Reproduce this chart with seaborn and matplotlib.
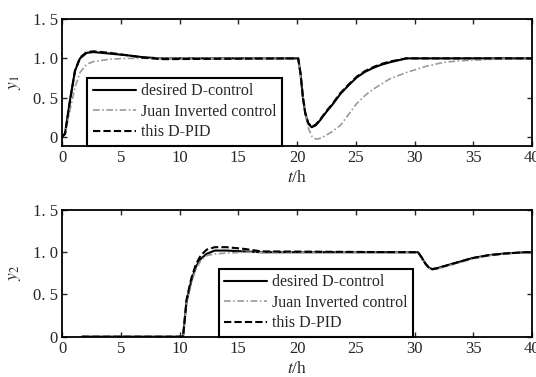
import pandas as pd
import matplotlib
matplotlib.use("Agg")
import matplotlib.pyplot as plt
import seaborn as sns

# y1 response (top panel)
t1_desired = [0, 0.26, 0.68, 1.1, 1.53, 2.1, 2.68, 4.1, 5.5, 6.9, 8.4, 20.1, 20.3, 20.5, 20.7,
              20.95, 21.25, 21.6, 22.0, 22.5, 23.0, 23.7, 24.4, 25.1, 25.8, 26.5, 27.2,
              27.9, 29.3, 40]
y1_desired = [0, 0.05, 0.47, 0.84, 1.0, 1.07, 1.08, 1.06, 1.04, 1.015, 1.0, 1.0, 0.8, 0.5, 0.3,
              0.17, 0.125, 0.15, 0.22, 0.32, 0.41, 0.55, 0.66, 0.76, 0.83, 0.88, 0.92,
              0.95, 1.0, 1.0]
y1_dpid = [0, 0.04, 0.46, 0.84, 1.01, 1.08, 1.09, 1.07, 1.04, 1.01, 0.99, 1.0, 0.81, 0.51, 0.31,
           0.18, 0.13, 0.16, 0.23, 0.33, 0.42, 0.56, 0.67, 0.77, 0.84, 0.89, 0.93,
           0.96, 1.0, 1.0]

t1_juan = [0, 0.26, 0.68, 1.1, 1.53, 2.1, 2.68, 4.1, 5.5, 20.1, 20.4, 20.7, 21.0, 21.3, 21.6,
           21.9, 22.2, 22.9, 23.7, 24.4, 25.1, 25.8, 26.5, 27.9, 29.3, 31.0, 32.5, 33.9,
           36.8, 40]
y1_juan = [0, 0.04, 0.34, 0.63, 0.82, 0.925, 0.96, 0.99, 1.0, 1.0, 0.65, 0.3, 0.1, 0.0, -0.025,
           -0.02, 0.0, 0.06, 0.15, 0.29, 0.43, 0.53, 0.61, 0.74, 0.82, 0.9, 0.95, 0.97,
           0.99, 1.0]

# y2 response (bottom panel)
t2 = [1.7, 10.3, 10.6, 11.0, 11.4, 11.8, 12.3, 13.0, 14.0, 15.5, 17.0, 30.3, 30.6, 30.9,
      31.2, 31.5, 31.9, 32.4, 33.4, 34.9, 36.3, 37.7, 39.4, 40]
y2_desired = [0, 0, 0.42, 0.66, 0.83, 0.92, 0.98, 1.02, 1.02, 1.01, 1.0, 1.0, 0.94, 0.87,
              0.82, 0.8, 0.81, 0.83, 0.87, 0.93, 0.965, 0.985, 1.0, 1.0]
y2_juan = [0, 0, 0.40, 0.64, 0.80, 0.90, 0.96, 0.98, 0.99, 1.0, 1.0, 1.0, 0.94, 0.87,
           0.81, 0.79, 0.8, 0.82, 0.86, 0.92, 0.96, 0.98, 1.0, 1.0]
y2_dpid = [0, 0, 0.44, 0.69, 0.86, 0.96, 1.03, 1.06, 1.06, 1.04, 1.01, 1.0, 0.94, 0.87,
           0.82, 0.8, 0.81, 0.83, 0.87, 0.93, 0.965, 0.985, 1.0, 1.0]

labels = ["desired D-control", "Juan Inverted control", "this D-PID"]
x_ticks = [0, 5, 10, 15, 20, 25, 30, 35, 40]
y_ticks = [0, 0.5, 1.0, 1.5]
y_ticklabels = ["0", "0. 5", "1. 0", "1. 5"]

sns.set_style("ticks")
plt.rcParams["font.family"] = ["Liberation Serif", "DejaVu Serif"]
plt.rcParams["mathtext.fontset"] = "stix"
plt.rcParams["xtick.direction"] = "in"
plt.rcParams["ytick.direction"] = "in"

fig = plt.figure(figsize=(5.36, 3.77), dpi=100)
ax_top = fig.add_axes([0.1157, 0.6135, 0.8769, 0.336])
ax_bot = fig.add_axes([0.1157, 0.1069, 0.8769, 0.336])

styles = [
    dict(color="black", lw=1.5, ls="-"),
    dict(color="#9a9a9a", lw=1.2, ls=(0, (4, 1.5, 1, 1.5))),
    dict(color="black", lw=1.5, ls=(0, (3.5, 1.5))),
]


def draw(ax, series, ylim, ylab, leg_x):
    for (t, y), lab, st in zip(series, labels, styles):
        df = pd.DataFrame({"t": t, "y": y})
        sns.lineplot(data=df, x="t", y="y", ax=ax, label=lab, sort=False,
                     color=st["color"], linewidth=st["lw"], linestyle=st["ls"])
    ax.set_xlim(0, 40)
    ax.set_ylim(*ylim)
    ax.set_xticks(x_ticks)
    ax.set_xticklabels([str(v) for v in x_ticks], fontsize=12)
    ax.set_yticks(y_ticks)
    ax.set_yticklabels(y_ticklabels, fontsize=12)
    ax.tick_params(top=True, right=True, length=3.5, width=1, pad=3)
    for s in ax.spines.values():
        s.set_linewidth(1.3)
        s.set_color("black")
    ax.set_xlabel(r"$t$/h", fontsize=12.5, labelpad=3)
    ax.set_ylabel(ylab, fontsize=12.5, labelpad=7)
    leg = ax.legend(loc="lower left", bbox_to_anchor=(leg_x, 0), borderaxespad=0,
                    fontsize=11.5, handlelength=2.7, handletextpad=0.3,
                    labelspacing=0.28, fancybox=False, framealpha=1,
                    borderpad=0.35)
    leg.get_frame().set_edgecolor("black")
    leg.get_frame().set_linewidth(1.5)


draw(ax_top, [(t1_desired, y1_desired), (t1_juan, y1_juan), (t1_desired, y1_dpid)],
     (-0.11, 1.5), r"$y_1$", 0.054)
draw(ax_bot, [(t2, y2_desired), (t2, y2_juan), (t2, y2_dpid)],
     (0, 1.5), r"$y_2$", 0.333)

fig.savefig("out.png", dpi=100)
